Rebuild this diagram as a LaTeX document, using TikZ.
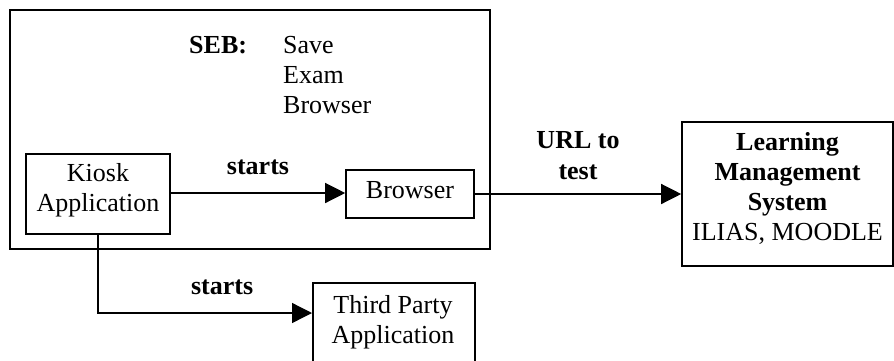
\documentclass[tikz,border=0pt]{standalone}
\usepackage{fontspec}
\setmainfont{Liberation Serif}
\usetikzlibrary{arrows.meta,positioning}
\newcommand{\dpfix}[1]{\rule[-#1]{0pt}{0pt}}
\begin{document}
\begin{tikzpicture}[x=1pt,y=-1pt,
  every node/.style={font=\fontsize{26}{30.3}\selectfont},
  box/.style={draw,line width=1.6pt,align=center,inner sep=0pt},
  lbl/.style={font=\fontsize{26}{30.3}\selectfont\bfseries,align=center,inner sep=0pt},
  conn/.style={line width=1.3pt,-{Triangle[length=20pt,width=20pt]}}]
\useasboundingbox (0,0) rectangle (894,360);
\node[box,minimum width=480pt,minimum height=239pt] (seb) at (250,129.5) {};
\node[box,minimum width=144pt,minimum height=80pt] (kiosk) at (98,194) {Kiosk\\Application\dpfix{13pt}};
\node[box,minimum width=128pt,minimum height=48pt] (browser) at (410,194) {Browser\dpfix{8pt}};
\node[box,minimum width=211pt,minimum height=144pt] (lms) at (787.5,194) {\textbf{Learning}\\\textbf{Management}\\\textbf{System}\\ILIAS, MOODLE\dpfix{15pt}};
\node[box,minimum width=162pt,minimum height=90pt,anchor=north west] (third) at (312,282) {};
\node[align=center,inner sep=0pt] (thirdtxt) at (393,322) {Third Party\\Application};
\node[lbl,anchor=base west] (seblbl) at (189,53) {SEB:};
\node[align=left,inner sep=0pt,anchor=base west] (sebtxt) at (283,113.6) {Save\\Exam\\Browser};
\coordinate (corner) at (kiosk.south |- 0,313);
\draw[conn] (kiosk.east |- 0,193) -- (browser.west |- 0,193) node[lbl,midway,above=18pt] (s1) {starts};
\draw[conn] (browser.east) -- (lms.west) node[lbl,midway,above=14pt] (url) {URL to\\test};
\draw[conn] (kiosk.south) -- (corner) -- (third.west |- corner) node[lbl,pos=0.58,above=18pt] (s2) {starts};
\end{tikzpicture}
\end{document}
